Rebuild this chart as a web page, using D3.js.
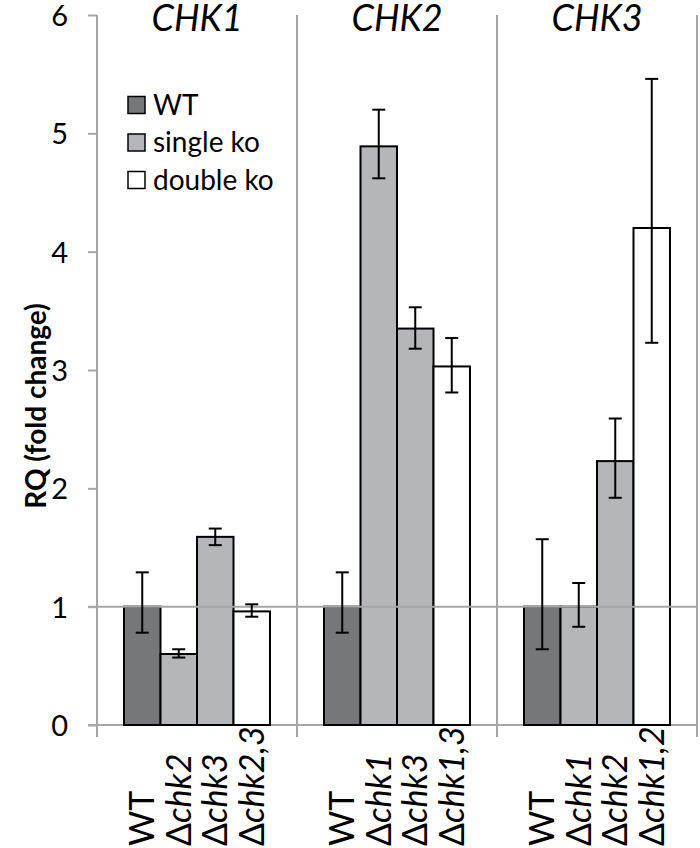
<!DOCTYPE html>
<html>
<head>
<meta charset="utf-8">
<script src="https://cdn.jsdelivr.net/npm/d3@7"></script>
<style>
  html, body { margin: 0; padding: 0; background: #fff; }
  svg { display: block; font-family: Lato, "Open Sans", sans-serif; }
</style>
</head>
<body>
<svg id="chart" width="700" height="848"></svg>
<script>
// ---- data ----
const genes = ["CHK1", "CHK2", "CHK3"];
const strainPrefix = [["", "Δ", "Δ", "Δ"], ["", "Δ", "Δ", "Δ"], ["", "Δ", "Δ", "Δ"]];
const strainNames = [["WT", "chk2", "chk3", "chk2,3"], ["WT", "chk1", "chk3", "chk1,3"], ["WT", "chk1", "chk2", "chk1,2"]];
const barTypes = ["WT", "single ko", "single ko", "double ko"];
const values = [[1.00, 0.60, 1.59, 0.96], [1.00, 4.89, 3.35, 3.03], [1.00, 1.00, 2.23, 4.20]];
const errLow = [[0.78, 0.57, 1.52, 0.915], [0.78, 4.62, 3.18, 2.81], [0.64, 0.83, 1.92, 3.23]];
const errHigh = [[1.29, 0.64, 1.66, 1.02], [1.29, 5.20, 3.53, 3.27], [1.57, 1.20, 2.59, 5.46]];
const legendLabels = ["WT", "single ko", "double ko"];
const yTicks = [0, 1, 2, 3, 4, 5, 6];
const yLabel = "RQ (fold change)";

// ---- styles ----
const fillOf = { "WT": "#76777b", "single ko": "#b5b6b9", "double ko": "#ffffff" };
const gray = "#a6a6a6";

const svg = d3.select("#chart");
const y = d3.scaleLinear().domain([0, 6]).range([725, 15]);
const x0 = d3.scaleBand().domain(genes).range([97, 697]).padding(0);
const x1 = d3.scaleBand().domain([0, 1, 2, 3]).range([27, 173]).padding(0);

// y axis ticks
const yAxis = svg.append("g").attr("transform", "translate(97,0)")
  .call(d3.axisLeft(y).tickValues(yTicks).tickSize(9).tickSizeOuter(0).tickPadding(20).tickFormat(d3.format("d")));
yAxis.select(".domain").remove();
yAxis.selectAll(".tick line").attr("stroke", gray).attr("stroke-width", 2);
yAxis.selectAll(".tick text").attr("font-size", 29).attr("fill", "#000").attr("font-family", "Lato").attr("dy", "0.36em");

// vertical separators
svg.append("g").selectAll("line").data(genes.concat(["end"])).join("line")
  .attr("x1", (d, i) => i < genes.length ? x0(d) : x0.range()[1])
  .attr("x2", (d, i) => i < genes.length ? x0(d) : x0.range()[1])
  .attr("y1", y(6)).attr("y2", y(0) + 12)
  .attr("stroke", gray).attr("stroke-width", 2);

// x baseline
svg.append("line").attr("x1", 88).attr("x2", x0.range()[1] + 1).attr("y1", y(0)).attr("y2", y(0))
  .attr("stroke", gray).attr("stroke-width", 2);

// bars
const flat = [];
genes.forEach((g, gi) => values[gi].forEach((v, bi) => flat.push({ g, gi, bi, v, lo: errLow[gi][bi], hi: errHigh[gi][bi], type: barTypes[bi] })));

svg.append("g").selectAll("rect").data(flat).join("rect")
  .attr("x", d => x0(d.g) + x1(d.bi))
  .attr("y", d => y(d.v))
  .attr("width", x1.bandwidth())
  .attr("height", d => y(0) - y(d.v))
  .attr("fill", d => fillOf[d.type])
  .attr("stroke", "#000").attr("stroke-width", 2);

// reference line at 1
svg.append("line").attr("x1", 88).attr("x2", x0.range()[1] + 1).attr("y1", y(1)).attr("y2", y(1))
  .attr("stroke", gray).attr("stroke-width", 2);

// error bars
const eb = svg.append("g").attr("stroke", "#000").attr("stroke-width", 2);
flat.forEach(d => {
  const cx = x0(d.g) + x1(d.bi) + x1.bandwidth() / 2;
  eb.append("line").attr("x1", cx).attr("x2", cx).attr("y1", y(d.lo)).attr("y2", y(d.hi));
  eb.append("line").attr("x1", cx - 6.5).attr("x2", cx + 6.5).attr("y1", y(d.lo)).attr("y2", y(d.lo));
  eb.append("line").attr("x1", cx - 6.5).attr("x2", cx + 6.5).attr("y1", y(d.hi)).attr("y2", y(d.hi));
});

// titles
svg.append("g").selectAll("text").data(genes).join("text")
  .attr("x", d => x0(d) + x0.bandwidth() / 2)
  .attr("y", 31)
  .attr("text-anchor", "middle")
  .attr("font-size", 36).attr("font-style", "italic")
  .text(d => d);

// x labels
flat.forEach(d => {
  const cx = x0(d.g) + x1(d.bi) + x1.bandwidth() / 2;
  const t = svg.append("text")
    .attr("transform", `translate(${cx + 12},846) rotate(-90)`)
    .attr("text-anchor", "start").attr("font-size", 34);
  const pre = strainPrefix[d.gi][d.bi];
  if (pre) t.append("tspan").text(pre);
  t.append("tspan").attr("font-style", strainNames[d.gi][d.bi] === "WT" ? "normal" : "italic")
    .text(strainNames[d.gi][d.bi]);
});

// y label
svg.append("text")
  .attr("transform", "translate(46,406) rotate(-90)")
  .attr("text-anchor", "middle").attr("font-size", 28).attr("font-weight", "bold")
  .text(yLabel);

// legend
const lg = svg.append("g");
legendLabels.forEach((l, i) => {
  const cy = 105 + i * 37.5;
  lg.append("rect").attr("x", 128).attr("y", cy - 8.5).attr("width", 17).attr("height", 17)
    .attr("fill", fillOf[l]).attr("stroke", "#000").attr("stroke-width", 1.5);
  lg.append("text").attr("x", 153).attr("y", cy).attr("dy", "0.35em")
    .attr("font-size", 28).text(l);
});
</script>
</body>
</html>
